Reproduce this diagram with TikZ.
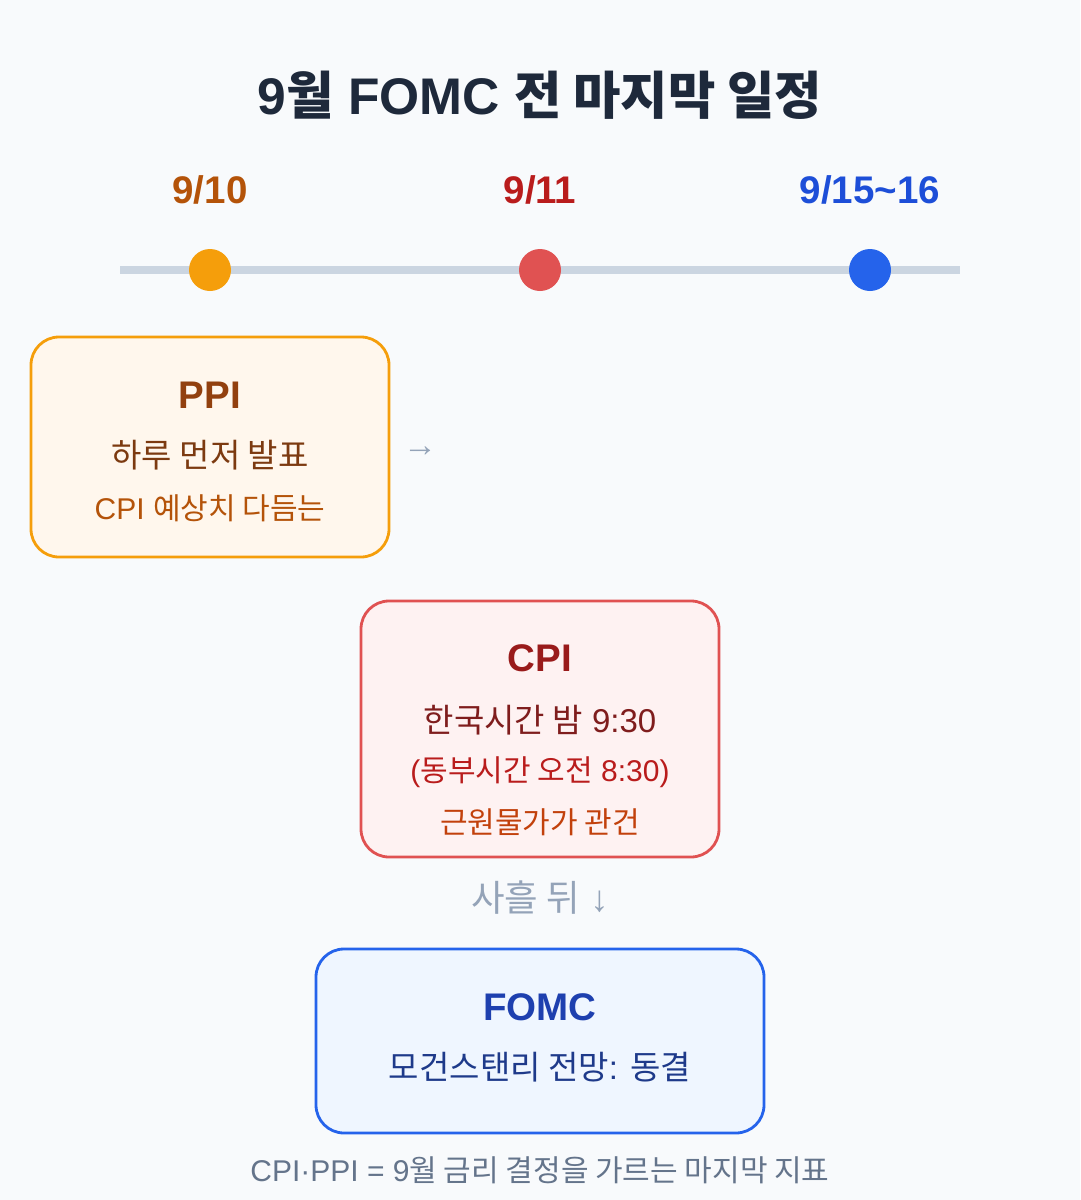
\documentclass[tikz,border=0pt]{standalone}
\usepackage{fontspec}
\setmainfont{Liberation Sans}
\newfontfamily\kr{Noto Sans CJK KR}
\definecolor{bg}{HTML}{F8FAFC}
\definecolor{titlec}{HTML}{1E293B}
\definecolor{linec}{HTML}{CBD5E1}
\definecolor{amberdot}{HTML}{F59E0B}
\definecolor{reddot}{HTML}{E05252}
\definecolor{bluedot}{HTML}{2563EB}
\definecolor{amberdate}{HTML}{B45309}
\definecolor{reddate}{HTML}{B91C1C}
\definecolor{bluedate}{HTML}{1D4ED8}
\definecolor{ppifill}{HTML}{FFF7ED}
\definecolor{ppihead}{HTML}{92400E}
\definecolor{ppitext}{HTML}{7C3A10}
\definecolor{ppisub}{HTML}{B45309}
\definecolor{cpifill}{HTML}{FEF2F2}
\definecolor{cpihead}{HTML}{991B1B}
\definecolor{cpitext}{HTML}{7F1D1D}
\definecolor{cpisub}{HTML}{B91C1C}
\definecolor{cpiorange}{HTML}{C2410C}
\definecolor{fomcfill}{HTML}{EFF6FF}
\definecolor{fomchead}{HTML}{1E40AF}
\definecolor{fomctext}{HTML}{1E3A8A}
\definecolor{muted}{HTML}{94A3B8}
\definecolor{footc}{HTML}{64748B}
\tikzset{
  txt/.style={inner sep=0pt, align=center},
  card/.style={draw, line width=2.8pt, rounded corners=28pt, inner sep=0pt},
  dot/.style={circle, inner sep=0pt, minimum size=42pt},
  head/.style={txt, font=\fontsize{38.5}{44}\selectfont\bfseries},
  big/.style={txt, font=\fontsize{33}{40}\selectfont},
  small/.style={txt, font=\fontsize{30}{36}\selectfont},
}
\begin{document}
\begin{tikzpicture}[x=1pt,y=-1pt]
\fill[bg] (0,0) rectangle (1080,1200);
\useasboundingbox (0,0) rectangle (1080,1200);

% title
\node[txt, text=titlec, font=\fontsize{51.5}{60}\selectfont\bfseries] (title) at (540,95)
  {9{\kr 월} FOMC {\kr 전 마지막 일정}};

% timeline
\coordinate (tls) at (120,270);
\coordinate (tle) at (960,270);
\draw[linec, line width=8pt] (tls) -- (tle);
\node[dot, fill=amberdot] (d1) at (210,270) {};
\node[dot, fill=reddot] (d2) at (540,270) {};
\node[dot, fill=bluedot] (d3) at (870,270) {};
\node[head, text=amberdate] (l1) at (210,190) {9/10};
\node[head, text=reddate] (l2) at (540,190) {9/11};
\node[head, text=bluedate] (l3) at (870,190) {9/15\textasciitilde16};

% PPI card
\node[card, draw=amberdot, fill=ppifill, minimum width=358pt, minimum height=220pt] (ppi) at (210,447) {};
\node[head, text=ppihead] (ppih) at (210,395) {PPI};
\node[big, text=ppitext] (ppi1) at (210,455) {\kr 하루 먼저 발표};
\node[small, text=ppisub] (ppi2) at (210,508) {CPI {\kr 예상치 다듬는}};
\node[txt, text=muted, font=\fontsize{34}{36}\selectfont] (arr1) at (420,452) {→};

% CPI card
\node[card, draw=reddot, fill=cpifill, minimum width=358pt, minimum height=256pt] (cpi) at (540,729) {};
\node[head, text=cpihead] (cpih) at (540,658) {CPI};
\node[big, text=cpitext] (cpi1) at (540,720) {{\kr 한국시간 밤} 9:30};
\node[small, text=cpisub] (cpi2) at (540,772) {({\kr 동부시간 오전} 8:30)};
\node[small, text=cpiorange] (cpi3) at (540,822) {\kr 근원물가가 관건};

\node[txt, text=muted, font=\fontsize{36.5}{40}\selectfont] (gap) at (540,898) {{\kr 사흘 뒤} ↓};

% FOMC card
\node[card, draw=bluedot, fill=fomcfill, minimum width=448pt, minimum height=184pt] (fomc) at (540,1041) {};
\node[head, text=fomchead] (fomch) at (540,1007) {FOMC};
\node[big, text=fomctext] (fomc1) at (540,1067) {{\kr 모건스탠리 전망}: {\kr 동결}};

% footer
\node[txt, text=footc, font=\fontsize{30}{36}\selectfont] (foot) at (540,1170)
  {CPI·PPI = 9{\kr 월 금리 결정을 가르는 마지막 지표}};
\end{tikzpicture}
\end{document}
